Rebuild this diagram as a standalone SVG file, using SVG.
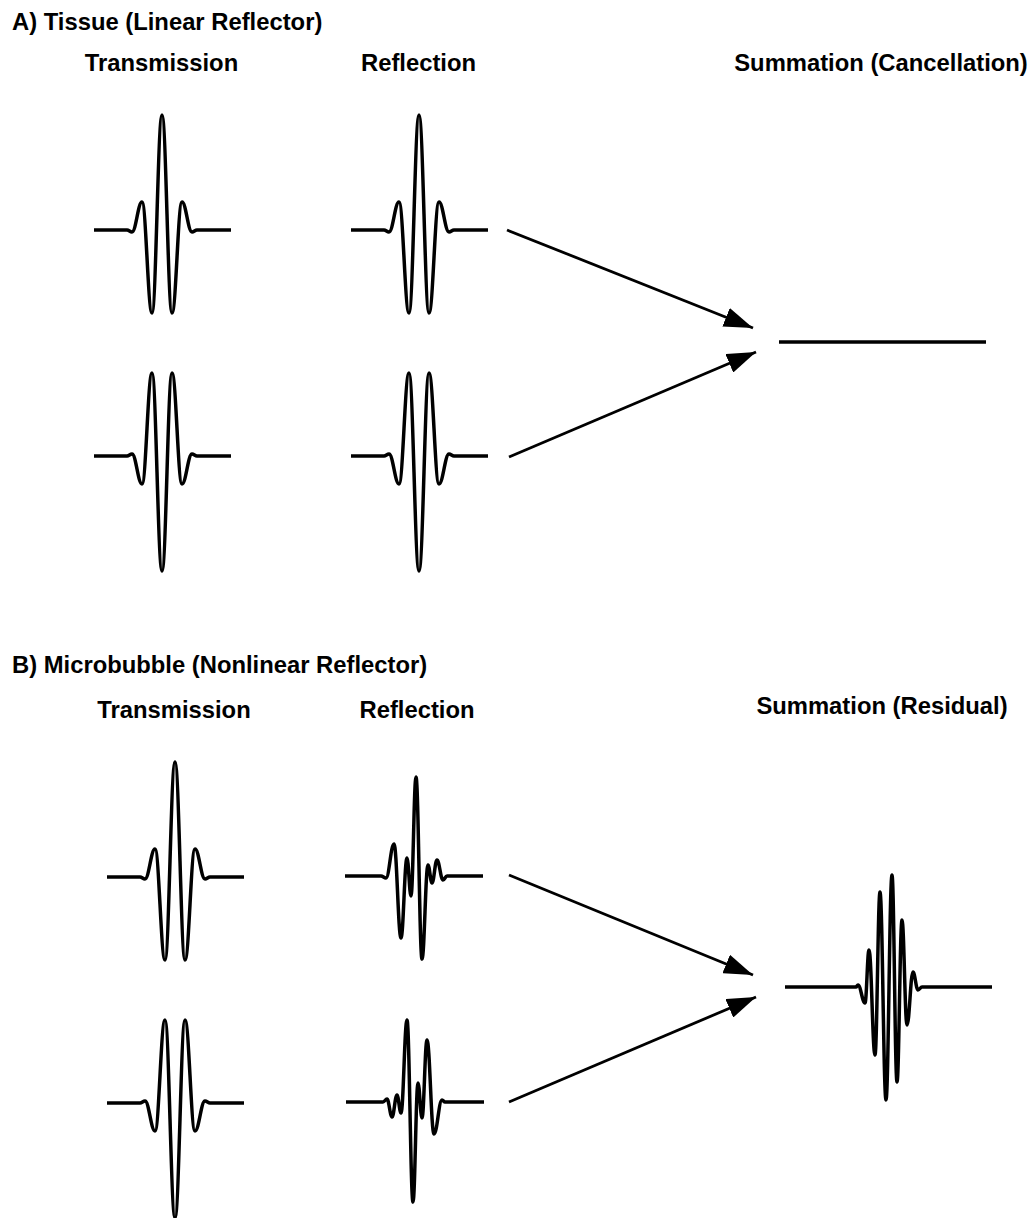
<svg xmlns="http://www.w3.org/2000/svg" xmlns:xlink="http://www.w3.org/1999/xlink" width="1036" height="1218" viewBox="0 0 1036 1218">
<style>
.bg{fill:#ffffff}
.wave{fill:none;stroke:#000;stroke-width:3.5;stroke-linejoin:round;stroke-linecap:butt}
.conn{fill:none;stroke:#000;stroke-width:2.8}
.t{font-family:"Liberation Sans",Arial,Helvetica,sans-serif;font-weight:bold;font-size:23.8px;fill:#000}
.mid{text-anchor:middle}
</style>
<defs>
<path id="pulse" class="wave" d="M-68,0 H-35 C-33,0 -32,2 -30,2 C-26,2 -24,-28 -20,-28 C-16,-28 -14,83 -10,83 C-6,83 -4,-115 0,-115 C4,-115 6,83 10,83 C14,83 16,-28 20,-28 C24,-28 26,2 30,2 C32,2 33,0 35,0 H69"/>
<marker id="arrow" markerUnits="userSpaceOnUse" markerWidth="30" markerHeight="20" refX="29" refY="10" orient="auto" viewBox="0 0 30 20">
<path d="M0,0 L29,10 L0,20 z" fill="#000"/>
</marker>
</defs>
<rect class="bg" x="0" y="0" width="1036" height="1218"/>

<g id="labels">
<text class="t" x="12" y="30">A) Tissue (Linear Reflector)</text>
<text class="t mid" x="161.5" y="71">Transmission</text>
<text class="t mid" x="418.5" y="71">Reflection</text>
<text class="t mid" x="881" y="71">Summation (Cancellation)</text>
<text class="t" x="12" y="673">B) Microbubble (Nonlinear Reflector)</text>
<text class="t mid" x="174" y="718">Transmission</text>
<text class="t mid" x="417" y="718">Reflection</text>
<text class="t mid" x="882" y="714">Summation (Residual)</text>
</g>

<g id="a-transmission-pos"><use xlink:href="#pulse" href="#pulse" transform="translate(162,230)"/></g>
<g id="a-transmission-neg"><use xlink:href="#pulse" href="#pulse" transform="translate(162,456) scale(1,-1)"/></g>
<g id="a-reflection-pos"><use xlink:href="#pulse" href="#pulse" transform="translate(419,230)"/></g>
<g id="a-reflection-neg"><use xlink:href="#pulse" href="#pulse" transform="translate(419,456) scale(1,-1)"/></g>
<g id="a-summation"><path class="wave" d="M779,342 H986"/></g>

<g id="b-transmission-pos"><use xlink:href="#pulse" href="#pulse" transform="translate(175,877)"/></g>
<g id="b-transmission-neg"><use xlink:href="#pulse" href="#pulse" transform="translate(175,1103) scale(1,-1)"/></g>
<g id="b-reflection-pos"><path class="wave" d="M345,876 H381 C383,876 384,878 386,878 C389.2,878 390.8,844 394,844 C396.8,844 398.2,938 401,938 C403.4,938 404.6,858 407,858 C408.6,858 409.4,896 411,896 C413,896 414,777 416,777 C418.4,777 419.6,959 422,959 C424.4,959 425.6,865 428,865 C429.6,865 430.4,883 432,883 C434,883 435,860 437,860 C439.4,860 440.6,880 443,880 C444.6,880 445.4,876 447,876 H483"/></g>
<g id="b-reflection-neg"><path class="wave" d="M346,1102 H383 C384.6,1102 385.4,1099 387,1099 C389,1099 390,1117 392,1117 C394,1117 395,1095 397,1095 C398.6,1095 399.4,1113 401,1113 C403.4,1113 404.6,1020 407,1020 C409.4,1020 410.6,1202 413,1202 C415,1202 416,1083 418,1083 C419.6,1083 420.4,1118 422,1118 C424,1118 425,1040 427,1040 C429.8,1040 431.2,1134 434,1134 C437.2,1134 438.8,1100 442,1100 C443.2,1100 443.8,1102 445,1102 H484"/></g>
<g id="b-summation"><path class="wave" d="M785,987 H856 C856.8,987 857.2,985 858,985 C860.8,985 862.2,1003 865,1003 C866.6,1003 867.4,950 869,950 C871.4,950 872.6,1055 875,1055 C877,1055 878,892 880,892 C882.4,892 883.6,1100 886,1100 C888.4,1100 889.6,875 892,875 C894,875 895,1082 897,1082 C899,1082 900,920 902,920 C904,920 905,1025 907,1025 C909.4,1025 910.6,972 913,972 C915,972 916,990 918,990 C919.6,990 920.4,987 922,987 H992"/></g>

<g id="connectors">
<line class="conn" x1="507" y1="230" x2="753" y2="328" marker-end="url(#arrow)"/>
<line class="conn" x1="509" y1="457" x2="756" y2="352" marker-end="url(#arrow)"/>
<line class="conn" x1="509" y1="875" x2="753" y2="975" marker-end="url(#arrow)"/>
<line class="conn" x1="509" y1="1102" x2="756" y2="997" marker-end="url(#arrow)"/>
</g>
</svg>
